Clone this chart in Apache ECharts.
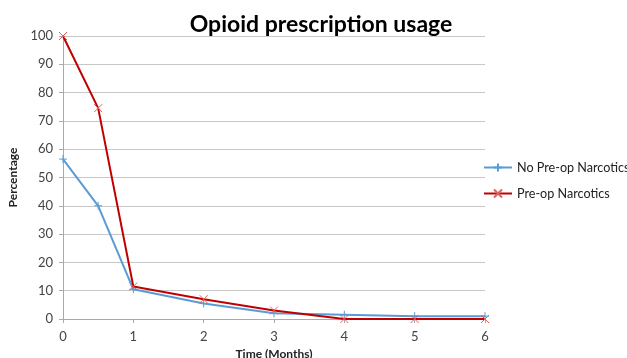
<!DOCTYPE html>
<html>
<head>
<meta charset="utf-8">
<script src="https://cdn.jsdelivr.net/npm/echarts@6/dist/echarts.min.js"></script>
<style>
  html, body { margin: 0; padding: 0; background: #fff; overflow: hidden; }
  #chart { width: 627px; height: 358px; }
</style>
</head>
<body>
<div id="chart"></div>
<script>
// Months after surgery and the share of patients still using opioids
const months = [0, 0.5, 1, 2, 3, 4, 5, 6];
const noPreOp = [56.5, 40, 10.5, 5.5, 2, 1.5, 1, 1];
const preOp = [100, 74.5, 11.5, 7, 3, 0, 0, 0];
const seriesNames = ['No Pre-op Narcotics', 'Pre-op Narcotics'];

const plusPath = 'path://M5,0 L5,10 M0,5 L10,5';
const crossPath = 'path://M0,0 L10,10 M10,0 L0,10';

const font = 'Lato, "Open Sans", sans-serif';

const chart = echarts.init(document.getElementById('chart'));
chart.setOption({
  animation: false,
  title: {
    text: 'Opioid prescription usage',
    left: 316, top: 8, textAlign: 'center',
    textStyle: { fontFamily: font, fontWeight: 'bold', fontSize: 23, color: '#000' }
  },
  legend: {
    orient: 'vertical',
    left: 483, top: 161, padding: 0,
    itemWidth: 28, itemHeight: 10, itemGap: 13,
    textStyle: { fontFamily: font, fontSize: 12.6, color: '#222' },
    data: seriesNames
  },
  grid: { left: 63, right: 142, top: 36, bottom: 39, outerBoundsMode: 'none', containLabel: false },
  xAxis: {
    type: 'value', min: 0, max: 6, interval: 1,
    name: 'Time (Months)', nameLocation: 'middle', nameGap: 25,
    nameTextStyle: { fontFamily: font, fontWeight: 'bold', fontSize: 12, color: '#222' },
    axisLine: { lineStyle: { color: '#aaa' } },
    axisTick: { show: true, length: 4, lineStyle: { color: '#aaa' } },
    axisLabel: { fontFamily: font, fontSize: 13, color: '#444', margin: 11 },
    splitLine: { show: false }
  },
  yAxis: {
    type: 'value', min: 0, max: 100, interval: 10,
    name: 'Percentage', nameLocation: 'middle', nameGap: 41,
    nameTextStyle: { fontFamily: font, fontWeight: 'bold', fontSize: 12, color: '#222' },
    axisLine: { show: true, lineStyle: { color: '#aaa' } },
    axisTick: { show: true, length: 4, lineStyle: { color: '#aaa' } },
    axisLabel: { fontFamily: font, fontSize: 13, color: '#444', margin: 10 },
    splitLine: { lineStyle: { color: '#c8c8c8' } }
  },
  series: [
    {
      name: seriesNames[0], type: 'line',
      data: months.map((m, i) => [m, noPreOp[i]]),
      symbol: plusPath, symbolSize: 8, showSymbol: true,
      lineStyle: { color: '#5b9bd5', width: 2 },
      itemStyle: { color: 'transparent', borderColor: '#5b9bd5', borderWidth: 1 },
      z: 2
    },
    {
      name: seriesNames[1], type: 'line',
      data: months.map((m, i) => [m, preOp[i]]),
      symbol: crossPath, symbolSize: 8, showSymbol: true,
      lineStyle: { color: '#c00000', width: 2 },
      itemStyle: { color: 'transparent', borderColor: '#e06060', borderWidth: 1 },
      z: 3
    }
  ]
});
</script>
</body>
</html>
